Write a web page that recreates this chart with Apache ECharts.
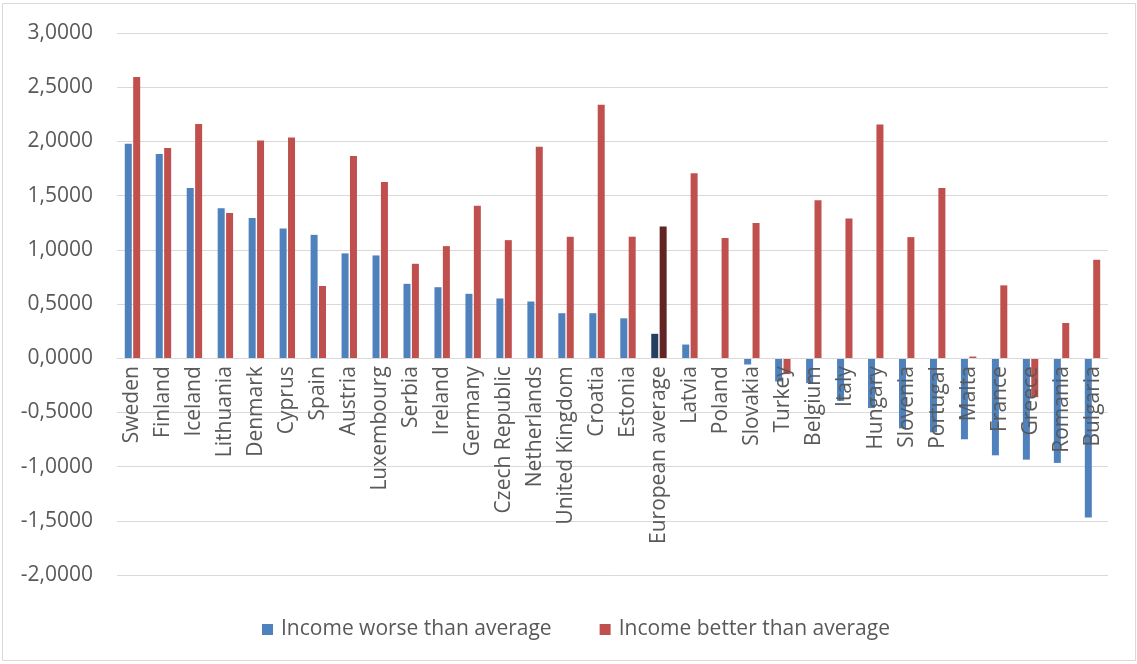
<!DOCTYPE html>
<html>
<head>
<meta charset="utf-8">
<script src="https://cdn.jsdelivr.net/npm/echarts@6/dist/echarts.min.js"></script>
<style>
  html, body { margin: 0; padding: 0; background: #ffffff; }
  #chart { width: 1137px; height: 664px; }
</style>
</head>
<body>
<div id="chart"></div>
<script>
// Countries, ordered by the "income worse than average" score
const countries = [
  'Sweden', 'Finland', 'Iceland', 'Lithuania', 'Denmark', 'Cyprus', 'Spain', 'Austria',
  'Luxembourg', 'Serbia', 'Ireland', 'Germany', 'Czech Republic', 'Netherlands',
  'United Kingdom', 'Croatia', 'Estonia', 'European average', 'Latvia', 'Poland',
  'Slovakia', 'Turkey', 'Belgium', 'Italy', 'Hungary', 'Slovenia', 'Portugal',
  'Malta', 'France', 'Greece', 'Romania', 'Bulgaria'
];

const incomeWorse = [
  1.978, 1.883, 1.571, 1.383, 1.294, 1.196, 1.138, 0.967,
  0.948, 0.686, 0.655, 0.594, 0.551, 0.523,
  0.415, 0.415, 0.368, 0.225, 0.126, 0.000,
  -0.058, -0.215, -0.230, -0.393, -0.460, -0.647, -0.684,
  -0.748, -0.896, -0.936, -0.966, -1.469
];

const incomeBetter = [
  2.595, 1.939, 2.160, 1.340, 2.009, 2.037, 0.666, 1.865,
  1.625, 0.871, 1.034, 1.406, 1.089, 1.951,
  1.120, 2.339, 1.121, 1.214, 1.707, 1.109,
  1.248, -0.147, 1.458, 1.288, 2.157, 1.117, 1.571,
  0.015, 0.672, -0.360, 0.325, 0.908
];

const seriesNames = ['Income worse than average', 'Income better than average'];
const highlighted = 'European average';

const colors = { worse: '#4F81BD', better: '#C0504D', worseDark: '#243F60', betterDark: '#632523' };
const font = '"Open Sans", "DejaVu Sans", sans-serif';

// Value range of the vertical axis
const yMin = -2, yMax = 3, yStep = 0.5;

// Plot box inside the canvas
const plot = { left: 117, right: 29, top: 33, bottom: 89, height: 664 - 33 - 89 };

function toItems(values, dark) {
  return values.map((v, i) => countries[i] === highlighted
    ? { value: v, itemStyle: { color: dark } }
    : v);
}

// The category axis sits on the zero line: shift it up from the plot bottom
const zeroShift = plot.height * (0 - yMin) / (yMax - yMin);

const chart = echarts.init(document.getElementById('chart'), null, { renderer: 'canvas' });

chart.setOption({
  backgroundColor: '#ffffff',
  animation: false,
  textStyle: { fontFamily: font },
  graphic: [{
    type: 'rect',
    shape: { x: 2.5, y: 3.5, width: 1133, height: 657 },
    style: { fill: 'none', stroke: '#D9D9D9', lineWidth: 1 },
    silent: true
  }],
  grid: {
    left: plot.left, right: plot.right, top: plot.top, bottom: plot.bottom,
    containLabel: false, outerBoundsMode: 'none'
  },
  legend: {
    data: seriesNames,
    bottom: 19,
    left: 257,
    icon: 'rect',
    itemWidth: 11,
    itemHeight: 11,
    itemGap: 48,
    textStyle: { fontFamily: font, fontSize: 21, color: '#595959', padding: [0, 0, 0, 3] }
  },
  xAxis: {
    type: 'category',
    data: countries,
    z: 5,
    position: 'bottom',
    offset: -zeroShift,
    axisLine: { onZero: false, lineStyle: { color: '#D9D9D9', width: 1 } },
    axisTick: { show: false },
    axisLabel: {
      interval: 0,
      rotate: 90,
      margin: 8,
      fontFamily: font,
      fontSize: 21,
      color: '#595959'
    },
    splitLine: { show: false }
  },
  yAxis: {
    type: 'value',
    min: yMin,
    max: yMax,
    interval: yStep,
    axisLine: { show: false },
    axisTick: { show: false },
    axisLabel: {
      margin: 24,
      fontFamily: font,
      fontSize: 21,
      color: '#595959',
      formatter: v => v.toFixed(4).replace('.', ',')
    },
    splitLine: { lineStyle: { color: '#D9D9D9', width: 1 } }
  },
  series: [
    {
      name: seriesNames[0],
      type: 'bar',
      data: toItems(incomeWorse, colors.worseDark),
      itemStyle: { color: colors.worse },
      barWidth: 7,
      barGap: '20%'
    },
    {
      name: seriesNames[1],
      type: 'bar',
      data: toItems(incomeBetter, colors.betterDark),
      itemStyle: { color: colors.better },
      barWidth: 7,
      barGap: '20%'
    }
  ]
});
</script>
</body>
</html>
